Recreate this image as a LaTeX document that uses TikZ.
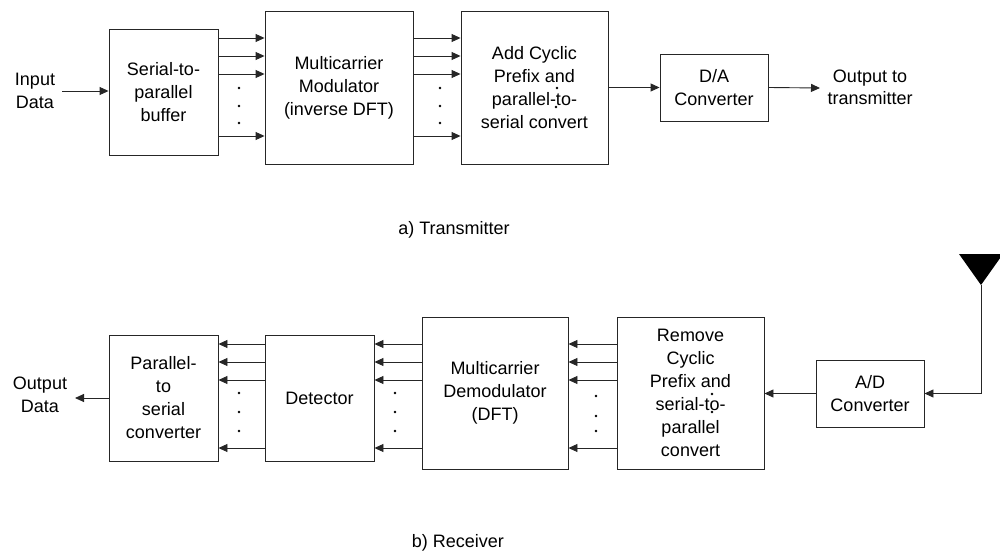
\documentclass[tikz,border=0pt]{standalone}
\usepackage{fontspec}
\setmainfont{Liberation Sans}
\usetikzlibrary{arrows.meta}
\begin{document}
\begin{tikzpicture}[x=1pt,y=-1pt,
  blk/.style={draw=black!85,line width=0.9pt,inner sep=0pt,align=center,
    font=\fontsize{18}{23}\selectfont},
  lbl/.style={inner sep=0pt,align=center,font=\fontsize{18}{22.5}\selectfont},
  arr/.style={draw=black!85,line width=0.9pt,-{Triangle[length=9pt,width=8pt]}},
  dotm/.style={fill=black,circle,inner sep=0pt,minimum size=2.6pt}]
\useasboundingbox (0,0) rectangle (1000,553);
% ---------- transmitter ----------
\node[blk,minimum width=109pt,minimum height=126pt] (s2p) at (163.5,92) {Serial-to-\\parallel\\buffer};
\node[blk,minimum width=148pt,minimum height=153pt] (mod) at (339,87.5) {Multicarrier\\Modulator\\(inverse DFT)};
\node[blk,minimum width=147pt,minimum height=153pt] (acp) at (534.5,87.5) {Add Cyclic\\Prefix and\\parallel-to-\\serial convert};
\node[blk,minimum width=108pt,minimum height=67pt] (da) at (714,87.5) {D/A\\Converter};
\node[lbl] (in) at (35,91) {Input\\Data};
\node[lbl] (out) at (870,87.5) {Output to\\transmitter};
\coordinate (inend) at (62,91);
\coordinate (outend) at (820,88);
\draw[arr] (inend) -- (s2p.west |- inend);
\foreach \yy in {38,56,74,136}{
  \draw[arr] (s2p.east |- 0,\yy) -- (mod.west |- 0,\yy);
  \draw[arr] (mod.east |- 0,\yy) -- (acp.west |- 0,\yy);
}
\draw[arr] (acp.east |- da.west) -- (da.west);
\draw[arr] (da.east) -- (outend);
\foreach \yy in {88,106,123}{
  \node[dotm] (dtA\yy) at (239,\yy) {};
  \node[dotm] (dtB\yy) at (440,\yy) {};
}
\node[dotm] (dtC1) at (557,88) {};
\node[dotm] (dtC2) at (556,107) {};
\node[lbl] (capa) at (454,230) {a) Transmitter};
% ---------- receiver ----------
\node[blk,minimum width=109pt,minimum height=126pt] (p2s) at (163.5,398) {Parallel-\\to\\serial\\converter};
\node[blk,minimum width=109pt,minimum height=126pt] (det) at (319.5,398) {Detector};
\node[blk,minimum width=146pt,minimum height=152pt] (dem) at (495,393) {Multicarrier\\Demodulator\\(DFT)};
\node[blk,minimum width=147pt,minimum height=152pt] (rem) at (690.5,393) {Remove\\Cyclic\\Prefix and\\serial-to-\\parallel\\convert};
\node[blk,minimum width=108pt,minimum height=67pt] (ad) at (870,393.5) {A/D\\Converter};
\node[lbl] (od) at (40,395) {Output\\Data};
\coordinate (odend) at (75,398);
\draw[arr] (p2s.west |- odend) -- (odend);
\foreach \yy in {344,362,380,448}{
  \draw[arr] (det.west |- 0,\yy) -- (p2s.east |- 0,\yy);
  \draw[arr] (dem.west |- 0,\yy) -- (det.east |- 0,\yy);
  \draw[arr] (rem.west |- 0,\yy) -- (dem.east |- 0,\yy);
}
\draw[arr] (ad.west) -- (rem.east |- ad.west);
\coordinate (ant) at (981,285);
\fill[black] (959,254) -- (1003,254) -- (ant) -- cycle;
\draw[arr] (ant) |- (ad.east);
\foreach \yy/\zz in {393/396,412/416,431/431}{
  \node[dotm] (dtD\yy) at (239,\yy) {};
  \node[dotm] (dtE\yy) at (395,\yy) {};
  \node[dotm] (dtF\yy) at (596,\zz) {};
}
\node[dotm] (dtG1) at (712,394) {};
\node[dotm] (dtG2) at (712,412) {};
\node[lbl] (capb) at (458,543) {b) Receiver};
\end{tikzpicture}
\end{document}
